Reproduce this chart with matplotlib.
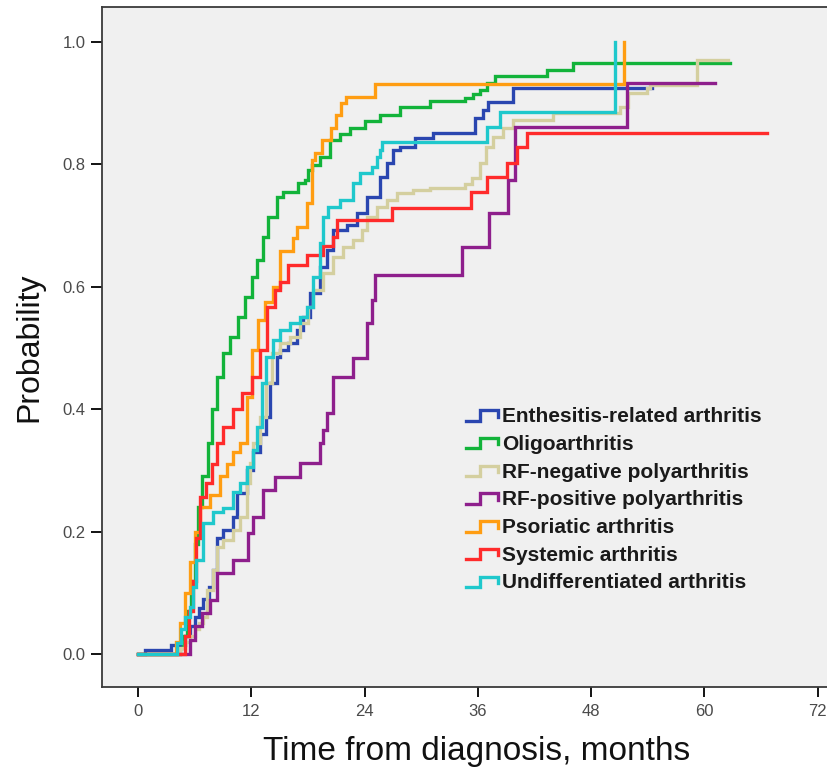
import matplotlib

matplotlib.use("Agg")
import matplotlib.pyplot as plt
import numpy as np
from matplotlib.legend_handler import HandlerBase
from matplotlib.lines import Line2D

plt.rcParams["font.family"] = ["Liberation Sans", "DejaVu Sans"]

# cumulative probability step curves (months, probability)
labels = [
    "Enthesitis-related arthritis",
    "Oligoarthritis",
    "RF-negative polyarthritis",
    "RF-positive polyarthritis",
    "Psoriatic arthritis",
    "Systemic arthritis",
    "Undifferentiated arthritis",
]
colors = ["#2a46b0", "#12b33a", "#d4cf9f", "#8e1f8c", "#ff9d12", "#ff2b2b", "#1fc8cc"]

era_t = [0, 0.7, 3.5, 5.0, 5.5, 6.0, 6.5, 6.9, 7.5, 8.0, 8.4, 9.0, 10.1, 10.5, 11.5,
         12.2, 12.9, 13.6, 14.0, 14.7, 15.0, 15.9, 16.8, 17.5, 18.2, 19.3, 20.0, 20.7,
         22.1, 23.2, 24.3, 25.6, 26.4, 27.0, 27.8, 29.3, 31.3, 35.7, 36.5, 37.1, 39.7, 54.4]
era_p = [0, 0.007, 0.015, 0.03, 0.045, 0.06, 0.075, 0.09, 0.11, 0.137, 0.19, 0.203, 0.224,
         0.263, 0.30, 0.33, 0.36, 0.387, 0.443, 0.485, 0.497, 0.508, 0.529, 0.551, 0.59,
         0.632, 0.66, 0.693, 0.701, 0.72, 0.747, 0.779, 0.802, 0.824, 0.829, 0.843, 0.851,
         0.876, 0.889, 0.902, 0.925, 0.925]

oligo_t = [0, 4.5, 4.8, 5.2, 5.6, 6.0, 6.4, 6.8, 7.4, 7.8, 8.4, 9.0, 9.7, 10.6, 11.3,
           12.1, 12.6, 13.2, 13.8, 14.7, 15.4, 16.9, 17.7, 18.0, 18.4, 19.3, 20.3, 21.4,
           22.5, 24.0, 25.6, 27.8, 30.9, 34.6, 35.5, 36.2, 37.0, 37.8, 43.3, 46.1, 62.7]
oligo_p = [0, 0.01, 0.03, 0.07, 0.12, 0.18, 0.24, 0.29, 0.345, 0.40, 0.453, 0.492, 0.518,
           0.551, 0.583, 0.616, 0.644, 0.681, 0.714, 0.747, 0.755, 0.769, 0.774, 0.791,
           0.799, 0.812, 0.84, 0.85, 0.86, 0.87, 0.88, 0.894, 0.903, 0.908, 0.915, 0.922,
           0.933, 0.944, 0.954, 0.965, 0.965]

rfneg_t = [0, 4.5, 5.0, 5.5, 6.0, 6.5, 6.9, 7.3, 8.0, 8.4, 9.0, 10.1, 10.8, 11.5, 11.9,
           12.2, 12.9, 13.6, 14.2, 15.0, 16.1, 17.2, 18.0, 18.5, 19.6, 20.7, 21.7, 22.8,
           23.7, 24.3, 25.3, 26.4, 27.4, 29.1, 30.9, 34.6, 35.4, 36.2, 36.9, 37.6, 38.7,
           39.7, 44.0, 51.1, 51.9, 53.9, 54.2, 59.2, 62.5]
rfneg_p = [0, 0.01, 0.02, 0.03, 0.04, 0.05, 0.06, 0.105, 0.137, 0.175, 0.186, 0.203, 0.224,
           0.279, 0.312, 0.345, 0.387, 0.443, 0.492, 0.508, 0.518, 0.541, 0.567, 0.595,
           0.623, 0.649, 0.665, 0.676, 0.693, 0.714, 0.730, 0.742, 0.753, 0.758, 0.761,
           0.768, 0.777, 0.802, 0.829, 0.845, 0.859, 0.872, 0.884, 0.894, 0.916, 0.925,
           0.93, 0.97, 0.97]

rfpos_t = [0, 5.5, 6.0, 6.8, 7.6, 8.4, 10.1, 11.7, 12.2, 13.2, 14.5, 17.2, 19.3, 19.6,
           20.0, 20.7, 22.8, 24.3, 24.8, 25.1, 34.3, 37.2, 39.2, 39.9, 51.8, 61.1]
rfpos_p = [0, 0.022, 0.045, 0.067, 0.088, 0.132, 0.154, 0.198, 0.224, 0.268, 0.289, 0.312,
           0.345, 0.366, 0.394, 0.453, 0.484, 0.541, 0.578, 0.619, 0.665, 0.72, 0.775,
           0.861, 0.933, 0.933]

psor_t = [0, 4.0, 4.5, 5.0, 5.5, 6.0, 6.6, 7.6, 8.7, 9.4, 10.1, 10.8, 11.5, 12.1, 12.7,
          13.5, 14.3, 15.0, 16.4, 16.8, 17.9, 18.4, 18.8, 19.5, 20.5, 21.0, 21.5, 22.0,
          25.1, 51.5]
psor_p = [0, 0.02, 0.05, 0.10, 0.15, 0.20, 0.24, 0.26, 0.29, 0.31, 0.33, 0.345, 0.42,
          0.497, 0.546, 0.575, 0.60, 0.658, 0.68, 0.698, 0.737, 0.807, 0.818, 0.84, 0.86,
          0.88, 0.90, 0.91, 0.932, 1.0]

sys_t = [0, 5.0, 5.4, 5.8, 6.2, 6.6, 7.2, 7.8, 8.4, 9.0, 10.1, 11.0, 12.1, 12.9, 13.7,
         14.5, 15.0, 15.9, 17.9, 19.6, 20.7, 21.1, 26.9, 35.3, 37.0, 39.1, 40.1, 41.2, 66.6]
sys_p = [0, 0.03, 0.07, 0.12, 0.19, 0.257, 0.28, 0.31, 0.345, 0.371, 0.40, 0.426, 0.453,
         0.497, 0.567, 0.595, 0.608, 0.636, 0.652, 0.666, 0.681, 0.709, 0.728, 0.755, 0.78,
         0.802, 0.829, 0.851, 0.851]

undiff_t = [0, 4.1, 4.6, 5.0, 5.5, 5.8, 6.2, 6.9, 8.0, 9.0, 10.1, 10.8, 11.5, 12.2, 12.6,
            13.1, 13.6, 14.3, 15.0, 16.1, 17.2, 17.9, 18.5, 19.3, 19.6, 20.1, 21.4, 22.8,
            23.5, 24.8, 25.3, 25.6, 25.9, 37.0, 38.3, 50.5]
undiff_p = [0, 0.018, 0.04, 0.06, 0.077, 0.11, 0.154, 0.214, 0.232, 0.238, 0.265, 0.279,
            0.306, 0.333, 0.371, 0.443, 0.485, 0.513, 0.529, 0.541, 0.551, 0.567, 0.616,
            0.671, 0.714, 0.73, 0.742, 0.769, 0.786, 0.796, 0.812, 0.824, 0.837, 0.861,
            0.886, 1.0]

series = [(era_t, era_p), (oligo_t, oligo_p), (rfneg_t, rfneg_p), (rfpos_t, rfpos_p),
          (psor_t, psor_p), (sys_t, sys_p), (undiff_t, undiff_p)]

x_ticks = [0, 12, 24, 36, 48, 60, 72]
y_ticks = [0.0, 0.2, 0.4, 0.6, 0.8, 1.0]


class StepHandler(HandlerBase):
    """Little step glyph like the SPSS legend icons."""

    def create_artists(self, legend, orig_handle, xdescent, ydescent, width, height,
                       fontsize, trans):
        xs = np.array([0.0, 0.42, 0.42, 0.95, 0.95]) * width - xdescent
        ys = np.array([0.05, 0.05, 0.85, 0.85, 0.35]) * height - ydescent
        line = Line2D(xs, ys, color=orig_handle.get_color(), lw=2.4,
                      solid_joinstyle="miter")
        line.set_transform(trans)
        return [line]


W, H = 827, 774
fig = plt.figure(figsize=(W / 100, H / 100), dpi=100)
fig.patch.set_facecolor("white")
ax = fig.add_axes([102 / W, (H - 687) / H, 744 / W, 680 / H])
ax.set_facecolor("#f0f0f0")

handles = []
for (t, p), c, lab in zip(series, colors, labels):
    (ln,) = ax.step(t, p, where="post", color=c, lw=2.4, label=lab,
                    solid_joinstyle="miter")
    handles.append(ln)

ax.set_xlim(-3.81, 75.0)
ax.set_ylim(-0.054, 1.057)
ax.set_xticks(x_ticks)
ax.set_yticks(y_ticks)
ax.set_yticklabels([f"{v:.1f}" for v in y_ticks])

for s in ax.spines.values():
    s.set_color("#3a3a3a")
    s.set_linewidth(1.3)

ax.tick_params(axis="y", direction="out", length=8, width=1.3, color="black",
               labelsize=12, labelcolor="#4a4a4a", pad=4)
ax.tick_params(axis="x", direction="out", length=7.5, width=1.3, color="black",
               labelsize=12, labelcolor="#4a4a4a", pad=5)

ax.set_ylabel("Probability", fontsize=23, color="#111111")
ax.yaxis.set_label_coords((44 - 102) / 744, 0.5)
ax.set_xlabel("Time from diagnosis, months", fontsize=24, color="#111111")
ax.xaxis.set_label_coords((477 - 102) / 744, (687 - 736) / 680)

ax.legend(handles=handles, labels=labels, handler_map={Line2D: StepHandler()},
          loc="upper left", bbox_to_anchor=(466 / W, 1 - 407 / H),
          bbox_transform=fig.transFigure, frameon=False, borderpad=0,
          borderaxespad=0, handlelength=1.6, handleheight=0.6, handletextpad=0.15,
          labelspacing=0.42, prop={"size": 15, "weight": "bold"},
          labelcolor="#1a1a1a")

fig.savefig("out.png", dpi=100)
